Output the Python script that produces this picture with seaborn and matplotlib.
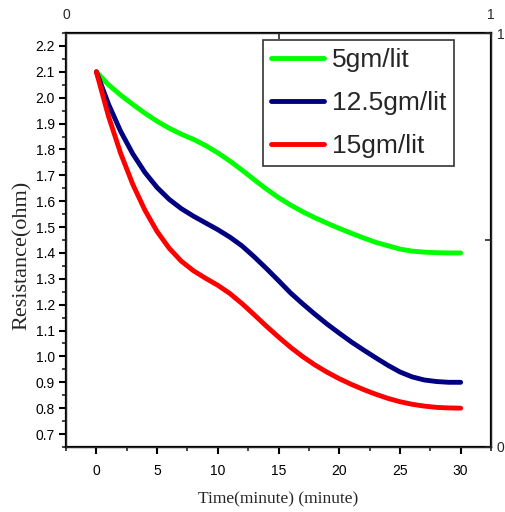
import matplotlib
matplotlib.use("Agg")
import matplotlib.pyplot as plt
from matplotlib import font_manager
from matplotlib.ticker import MultipleLocator, FixedLocator
import seaborn as sns
import pandas as pd

# time in minutes and resistance (ohm)
time_min = list(range(0, 31))
res_5 = [2.100, 2.050, 2.010, 1.974, 1.940, 1.909, 1.882, 1.859, 1.839, 1.815, 1.787,
         1.755, 1.720, 1.683, 1.647, 1.614, 1.585, 1.559, 1.536, 1.515, 1.495,
         1.476, 1.458, 1.441, 1.428, 1.415, 1.407, 1.403, 1.401, 1.400, 1.400]
res_12_5 = [2.100, 1.975, 1.870, 1.783, 1.711, 1.653, 1.607, 1.571, 1.542, 1.516, 1.490,
            1.461, 1.427, 1.385, 1.340, 1.293, 1.245, 1.203, 1.163, 1.125, 1.090,
            1.056, 1.025, 0.995, 0.966, 0.940, 0.921, 0.909, 0.903, 0.900, 0.900]
res_15 = [2.100, 1.928, 1.785, 1.665, 1.565, 1.483, 1.418, 1.368, 1.331, 1.302, 1.275,
          1.243, 1.204, 1.161, 1.117, 1.075, 1.035, 0.999, 0.967, 0.939, 0.914,
          0.892, 0.872, 0.854, 0.838, 0.825, 0.815, 0.808, 0.803, 0.801, 0.800]
labels = ["5gm/lit", "12.5gm/lit", "15gm/lit"]
colors = ["#00ff00", "#000080", "#ff0000"]

df = pd.concat([
    pd.DataFrame({"Time": time_min, "Resistance": vals, "Conc": lab})
    for vals, lab in zip([res_5, res_12_5, res_15], labels)
])

sns.set_style("ticks")
installed = {f.name for f in font_manager.fontManager.ttflist}
if "Liberation Sans Narrow" in installed:
    narrow, leg_size, tick_size = "Liberation Sans Narrow", 22, 11
else:
    narrow, leg_size, tick_size = "Liberation Sans", 19, 10
plt.rcParams["font.family"] = [narrow, "DejaVu Sans"]

fig = plt.figure(figsize=(5.05, 5.12), dpi=100)
ax = fig.add_axes([0.1307, 0.127, 0.8416, 0.8085])

sns.lineplot(data=df, x="Time", y="Resistance", hue="Conc", hue_order=labels,
             palette=dict(zip(labels, colors)), linewidth=3.5, ax=ax, sort=False)

ax.set_xlim(-2.5, 32.5)
ax.set_ylim(0.65, 2.25)
ax.xaxis.set_minor_locator(MultipleLocator(2.5))
ax.yaxis.set_minor_locator(MultipleLocator(0.05))
ax.set_xticks([0, 5, 10, 15, 20, 25, 30])
ax.set_yticks([0.7 + 0.1 * i for i in range(16)])
ax.set_yticklabels([f"{0.7 + 0.1 * i:.1f}" for i in range(16)])
ax.tick_params(axis="both", which="major", direction="out", length=5, width=1.5,
               labelsize=tick_size, colors="black", pad=3)
ax.tick_params(axis="both", which="minor", direction="out", length=3, width=1.2)
ax.tick_params(axis="x", pad=7)

ax.set_xlabel("Time(minute) (minute)", fontfamily="Liberation Serif", fontsize=12.5, labelpad=10)
ax.set_ylabel("Resistance(ohm)", fontfamily="Liberation Serif", fontsize=16)
ax.yaxis.set_label_coords(-0.08, 0.464)

for side in ["left", "bottom", "top", "right"]:
    ax.spines[side].set_visible(True)
    ax.spines[side].set_color("black")
    ax.spines[side].set_linewidth(1.6)

# Origin-style secondary axes on top and right (0..1)
ax_top = ax.twiny()
ax_top.set_xlim(0, 1)
ax_top.xaxis.set_major_locator(FixedLocator([0, 1]))
ax_top.xaxis.set_minor_locator(FixedLocator([0.5]))
ax_top.tick_params(axis="x", which="both", direction="in", length=4, width=1.2,
                   labelsize=tick_size, pad=8)

ax_right = ax.twinx()
ax_right.set_ylim(0, 1)
ax_right.yaxis.set_major_locator(FixedLocator([0, 1]))
ax_right.yaxis.set_minor_locator(FixedLocator([0.5]))
ax_right.tick_params(axis="y", which="both", direction="in", length=4, width=1.2,
                     labelsize=tick_size, pad=4)

handles, _ = ax.get_legend_handles_labels()
leg = ax.legend(handles, labels, loc="upper right", bbox_to_anchor=(0.913, 0.983),
                prop={"family": narrow, "size": leg_size}, frameon=True, fancybox=False,
                framealpha=1, edgecolor="#333333", handlelength=2.0, handletextpad=0.3,
                labelspacing=0.72, borderpad=0.3, borderaxespad=0)
leg.get_frame().set_linewidth(1.2)

fig.savefig("out.png", dpi=100)
